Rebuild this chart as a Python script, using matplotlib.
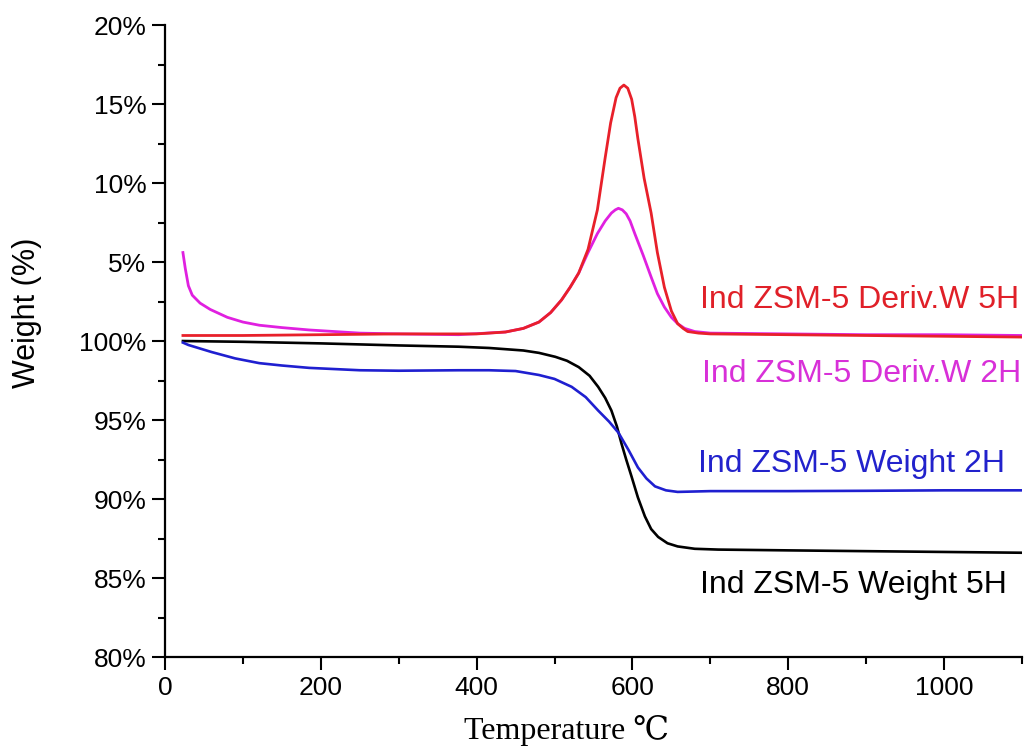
import numpy as np
import matplotlib
matplotlib.use("Agg")
import matplotlib.pyplot as plt
from matplotlib.ticker import MultipleLocator, FixedLocator

plt.rcParams['font.family'] = ['Liberation Sans', 'DejaVu Sans']

# Weight curves (%)
temp_w5 = [23, 100, 200, 300, 377, 416, 460, 480, 501, 516, 531, 545, 556, 565, 573,
           580, 586, 592, 599, 607, 616, 624, 633, 645, 658, 680, 710, 800, 900, 1000, 1100]
weight_5h = [100.0, 99.95, 99.85, 99.72, 99.64, 99.56, 99.4, 99.25, 99.0, 98.75, 98.35, 97.8,
             97.1, 96.4, 95.6, 94.6, 93.5, 92.5, 91.4, 90.1, 88.9, 88.1, 87.6, 87.2, 87.0,
             86.85, 86.8, 86.75, 86.7, 86.65, 86.6]

temp_w2 = [23, 30, 40, 60, 90, 121, 150, 185, 250, 300, 377, 416, 450, 480, 500, 522, 540,
           556, 570, 582, 595, 607, 618, 629, 643, 658, 700, 800, 900, 1000, 1100]
weight_2h = [99.9, 99.75, 99.6, 99.3, 98.9, 98.6, 98.45, 98.3, 98.15, 98.12, 98.15, 98.15,
             98.1, 97.85, 97.6, 97.1, 96.45, 95.6, 94.9, 94.2, 93.1, 92.0, 91.3, 90.8, 90.55,
             90.45, 90.5, 90.5, 90.52, 90.55, 90.55]

# Derivative curves (%), shown on the upper part of the same axis
temp_d5 = [23, 100, 200, 300, 400, 437, 460, 480, 495, 509, 520, 531, 543, 555, 565, 572,
           579, 584, 589, 594, 599, 603, 607, 615, 624, 632, 641, 650, 658, 665, 671, 685,
           700, 800, 900, 1000, 1100]
deriv_5h = [0.35, 0.35, 0.4, 0.45, 0.45, 0.57, 0.8, 1.2, 1.8, 2.6, 3.4, 4.3, 5.8, 8.3, 11.6,
            13.8, 15.4, 16.0, 16.2, 16.0, 15.3, 14.2, 12.8, 10.3, 8.1, 5.6, 3.4, 1.9, 1.1,
            0.8, 0.6, 0.5, 0.45, 0.4, 0.35, 0.3, 0.25]

temp_d2 = [23, 26, 30, 35, 45, 58, 80, 100, 121, 150, 185, 250, 300, 377, 437, 460, 480, 495,
           509, 520, 531, 543, 555, 565, 573, 578, 582, 587, 592, 597, 603, 614, 624, 632,
           641, 650, 658, 667, 680, 700, 800, 900, 1000, 1100]
deriv_2h = [5.6, 4.6, 3.5, 2.9, 2.4, 2.0, 1.5, 1.2, 1.0, 0.85, 0.7, 0.5, 0.45, 0.4, 0.57, 0.8,
            1.2, 1.8, 2.6, 3.4, 4.3, 5.6, 6.8, 7.6, 8.1, 8.3, 8.4, 8.3, 8.05, 7.6, 6.8, 5.4,
            4.05, 3.0, 2.15, 1.5, 1.1, 0.8, 0.6, 0.5, 0.45, 0.4, 0.4, 0.35]

ytick_pos = [80, 85, 90, 95, 100, 105, 110, 115, 120]
ytick_labels = ["80%", "85%", "90%", "95%", "100%", "5%", "10%", "15%", "20%"]

deriv_offset = 100  # derivative zero sits at the 100% weight line

fig = plt.figure(figsize=(10.30, 7.49), dpi=100)
ax = fig.add_axes([0.1602, 0.1228, 0.8320, 0.8438])

ax.plot(temp_w5, weight_5h, color="black", lw=1.9)
ax.plot(temp_w2, weight_2h, color="#1f1fd0", lw=1.9)
ax.plot(temp_d2, np.array(deriv_2h) + deriv_offset, color="#e020e0", lw=2.0)
ax.plot(temp_d5, np.array(deriv_5h) + deriv_offset, color="#e8202a", lw=2.0)

ax.set_xlim(0, 1100)
ax.set_ylim(80, 120)
ax.xaxis.set_major_locator(FixedLocator([0, 200, 400, 600, 800, 1000]))
ax.xaxis.set_minor_locator(MultipleLocator(100))
ax.yaxis.set_major_locator(FixedLocator(ytick_pos))
ax.yaxis.set_minor_locator(MultipleLocator(2.5))
ax.set_yticklabels(ytick_labels)

for side in ["top", "right"]:
    ax.spines[side].set_visible(False)
for side in ["left", "bottom"]:
    ax.spines[side].set_linewidth(1.6)

ax.tick_params(which="major", direction="out", length=9.5, width=1.5, labelsize=19, pad=4)
ax.tick_params(which="minor", direction="out", length=5, width=1.5)

ax.set_ylabel("Weight (%)", fontsize=22)
ax.yaxis.set_label_coords(-0.1435, 0.544)
ax.set_xlabel("Temperature \u2103", fontsize=23,
              family=["Liberation Serif", "DejaVu Serif", "DejaVu Sans"])
ax.xaxis.set_label_coords(0.4685, -0.092)

label_kw = dict(fontsize=23, ha="left", va="baseline")
ax.text(687, 102.09, "Ind ZSM-5 Deriv.W 5H", color="#e02028", **label_kw)
ax.text(689, 97.41, "Ind ZSM-5 Deriv.W 2H", color="#d830d8", **label_kw)
ax.text(684, 91.7, "Ind ZSM-5 Weight 2H", color="#2222cc", **label_kw)
ax.text(687, 84.05, "Ind ZSM-5 Weight 5H", color="black", **label_kw)

fig.savefig("out.png", dpi=100)
